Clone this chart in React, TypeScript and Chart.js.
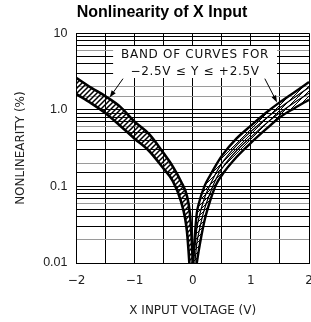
import React, { useEffect, useRef } from 'react';
import { Chart, registerables } from 'chart.js';

Chart.register(...registerables);

// ---- data ----
const leftBandX = [-2, -1.75, -1.5, -1.25, -1, -0.75, -0.5, -0.35, -0.2, -0.1, -0.05, -0.02, 0];
const leftBandUpper = [2.6, 1.95, 1.5, 1.1, 0.7, 0.48, 0.27, 0.185, 0.115, 0.075, 0.045, 0.022, 0.01];
const leftBandLower = [1.6, 1.22, 0.9, 0.62, 0.42, 0.29, 0.17, 0.12, 0.063, 0.026, 0.008, 0.003, 0.002];

const rightBandX = [0, 0.03, 0.07, 0.1, 0.2, 0.3, 0.4, 0.5, 0.75, 1, 1.25, 1.5, 1.75, 2];
const rightBandUpper = [0.01, 0.02, 0.045, 0.058, 0.1, 0.14, 0.19, 0.25, 0.42, 0.62, 0.9, 1.26, 1.7, 2.3];
const rightBandMid1 = [0.008, 0.014, 0.028, 0.037, 0.07, 0.105, 0.15, 0.2, 0.34, 0.52, 0.76, 1.07, 1.45, 1.95];
const rightBandMid2 = [0.006, 0.009, 0.018, 0.024, 0.05, 0.082, 0.125, 0.17, 0.29, 0.44, 0.65, 0.92, 1.25, 1.65];
const rightBandLower = [0.003, 0.006, 0.01, 0.014, 0.035, 0.065, 0.105, 0.14, 0.24, 0.37, 0.55, 0.8, 1.05, 1.35];

const xTickValues = [-2, -1, 0, 1, 2];
const xTickLabels = ['\u22122', '\u22121', '0', '1', '2'];
const yTickValues = [0.01, 0.1, 1, 10];
const yTickLabels = ['0.01', '0.1', '1.0', '10'];

const titleText = 'Nonlinearity of X Input';
const xTitle = 'X INPUT VOLTAGE (V)';
const yTitle = 'NONLINEARITY (%)';
const noteLines = ['BAND OF CURVES FOR', '\u22122.5V \u2264 Y \u2264 +2.5V'];

function pts(xs: number[], ys: number[]) {
  return xs.map((x, i) => ({ x, y: ys[i] }));
}

function makeHatch(lineWidth: number, spacing: number, color: string) {
  const c = document.createElement('canvas');
  c.width = spacing;
  c.height = spacing;
  const g = c.getContext('2d')!;
  g.strokeStyle = color;
  g.lineWidth = lineWidth;
  g.beginPath();
  g.moveTo(-1, spacing + 1);
  g.lineTo(spacing + 1, -1);
  g.moveTo(-2, 2);
  g.lineTo(2, -2);
  g.moveTo(spacing - 2, spacing + 2);
  g.lineTo(spacing + 2, spacing - 2);
  g.stroke();
  return g.createPattern(c, 'repeat')!;
}

function arrow(ctx: CanvasRenderingContext2D, x1: number, y1: number, x2: number, y2: number) {
  const a = Math.atan2(y2 - y1, x2 - x1);
  const len = 7;
  const w = 2.5;
  ctx.beginPath();
  ctx.moveTo(x1, y1);
  ctx.lineTo(x2 - Math.cos(a) * len * 0.8, y2 - Math.sin(a) * len * 0.8);
  ctx.stroke();
  ctx.beginPath();
  ctx.moveTo(x2, y2);
  ctx.lineTo(x2 - Math.cos(a) * len - Math.sin(a) * w, y2 - Math.sin(a) * len + Math.cos(a) * w);
  ctx.lineTo(x2 - Math.cos(a) * len + Math.sin(a) * w, y2 - Math.sin(a) * len - Math.cos(a) * w);
  ctx.closePath();
  ctx.fill();
}

const notePlugin = {
  id: 'bandNote',
  beforeDatasetsDraw(chart: any) {
    const { ctx, scales } = chart;
    const x = scales.x;
    const y = scales.y;
    ctx.save();
    const l = x.getPixelForValue(-1.37);
    const r = x.getPixelForValue(1.45);
    const t = y.getPixelForValue(6.8);
    const b = y.getPixelForValue(2.6);
    ctx.fillStyle = '#fff';
    ctx.fillRect(l, t, r - l, b - t);
    ctx.fillStyle = '#111';
    ctx.font = '12px "DejaVu Sans"';
    (ctx as any).letterSpacing = '0.7px';
    ctx.textAlign = 'center';
    ctx.textBaseline = 'middle';
    const cx = x.getPixelForValue(0.04);
    ctx.fillText(noteLines[0], cx, y.getPixelForValue(5.2));
    ctx.fillText(noteLines[1], cx, y.getPixelForValue(3.1));
    ctx.restore();
  },
  afterDatasetsDraw(chart: any) {
    const { ctx, scales } = chart;
    const x = scales.x;
    const y = scales.y;
    ctx.save();
    ctx.strokeStyle = '#000';
    ctx.fillStyle = '#000';
    ctx.lineWidth = 1;
    arrow(ctx, x.getPixelForValue(-1.2), y.getPixelForValue(2.55), x.getPixelForValue(-1.43), y.getPixelForValue(1.45));
    arrow(ctx, x.getPixelForValue(1.24), y.getPixelForValue(2.55), x.getPixelForValue(1.45), y.getPixelForValue(1.25));
    ctx.restore();
  },
};

function yGridColor(value: number) {
  const d = Math.round(value / Math.pow(10, Math.floor(Math.log10(value) + 1e-9)));
  return d === 2 || d === 6 ? '#9a9a9a' : '#000';
}

export default function App() {
  const ref = useRef<HTMLCanvasElement | null>(null);
  useEffect(() => {
    const canvas = ref.current!;
    const hatchLeft = makeHatch(1.5, 5, '#000');
    const hatchRight = makeHatch(1, 5, '#000');
    const line = {
      pointRadius: 0,
      borderColor: '#000',
      cubicInterpolationMode: 'monotone' as const,
      clip: 0,
    };
    const chart = new Chart(canvas, {
      type: 'line',
      data: {
        datasets: [
          { ...line, data: pts(leftBandX, leftBandUpper), borderWidth: 2.6, fill: '+1', backgroundColor: hatchLeft },
          { ...line, data: pts(leftBandX, leftBandLower), borderWidth: 2.6, fill: false },
          { ...line, data: pts(rightBandX, rightBandUpper), borderWidth: 2.4, fill: '+1', backgroundColor: hatchRight },
          { ...line, data: pts(rightBandX, rightBandLower), borderWidth: 2.4, fill: false },
          { ...line, data: pts(rightBandX, rightBandMid1), borderWidth: 1.2, fill: false },
          { ...line, data: pts(rightBandX, rightBandMid2), borderWidth: 1.2, fill: false },
        ],
      },
      options: {
        responsive: false,
        animation: false,
        events: [],
        layout: { padding: { left: 15, right: 2, top: 0, bottom: 0 } },
        plugins: {
          legend: { display: false },
          tooltip: { enabled: false },
          title: {
            display: true,
            text: titleText,
            color: '#000',
            font: { family: '"Liberation Sans", Arial, sans-serif', size: 16, weight: 'bold', lineHeight: 1.2 },
            padding: { top: 3, bottom: 11 },
          },
        },
        scales: {
          x: {
            type: 'linear',
            min: -2,
            max: 2,
            afterBuildTicks: (s: any) => {
              const t = [];
              for (let i = 0; i < xTickValues.length; i++) {
                t.push({ value: xTickValues[i] });
                if (i < xTickValues.length - 1) t.push({ value: (xTickValues[i] + xTickValues[i + 1]) / 2 });
              }
              s.ticks = t;
            },
            afterFit: (s: any) => {
              s.height = 59;
              s.paddingLeft = 0;
              s.paddingRight = 0;
            },
            grid: { color: '#000', lineWidth: 1, drawTicks: false },
            border: { color: '#000', width: 1 },
            ticks: {
              autoSkip: false,
              maxRotation: 0,
              padding: 11,
              color: '#222',
              font: { family: '"DejaVu Sans"', size: 12 },
              callback: (v: any) => {
                const i = xTickValues.indexOf(Number(v));
                return i >= 0 ? xTickLabels[i] : '';
              },
            },
            title: {
              display: true,
              text: xTitle,
              color: '#222',
              font: { family: '"DejaVu Sans"', size: 12, lineHeight: 1.2 },
              padding: { top: 0, bottom: 4 },
            },
          },
          y: {
            type: 'logarithmic',
            min: 0.01,
            max: 10,
            afterFit: (s: any) => {
              s.width = 61.5;
              s.paddingTop = 0;
              s.paddingBottom = 0;
            },
            grid: {
              color: (c: any) => yGridColor(c.tick ? c.tick.value : 1),
              lineWidth: 1,
              drawTicks: false,
            },
            border: { color: '#000', width: 1 },
            ticks: {
              autoSkip: false,
              padding: 9,
              color: '#222',
              font: { family: '"Liberation Sans", Arial, sans-serif', size: 12.5 },
              callback: (v: any) => {
                const n = Number(v);
                const i = yTickValues.findIndex((t) => Math.abs(t - n) / t < 1e-6);
                return i >= 0 ? yTickLabels[i] : '';
              },
            },
            title: {
              display: true,
              text: yTitle,
              color: '#222',
              font: { family: '"DejaVu Sans"', size: 12, lineHeight: 1 },
              padding: { top: 0, bottom: 0 },
            },
          },
        },
      },
      plugins: [notePlugin],
    } as any);
    return () => chart.destroy();
  }, []);
  return (
    <div style={{ position: 'absolute', left: 0, top: 0, width: 311, height: 322, background: '#fff' }}>
      <canvas ref={ref} width={311} height={322} style={{ display: 'block' }} />
    </div>
  );
}
